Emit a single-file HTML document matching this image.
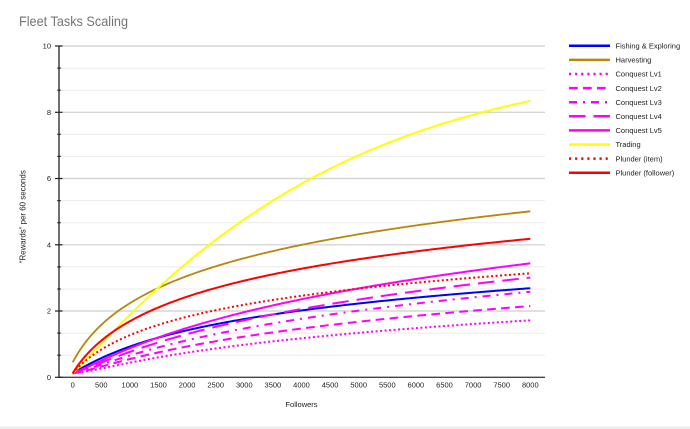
<!DOCTYPE html>
<html><head><meta charset="utf-8"><style>
html,body{margin:0;padding:0;background:#fff;}
svg{display:block;font-family:"Liberation Sans",Arial,sans-serif;}
</style></head><body>
<svg id="c" width="690" height="429" viewBox="0 0 690 429" xmlns="http://www.w3.org/2000/svg">
<rect x="0" y="0" width="690" height="429" fill="#fff"/>
<rect x="0" y="426.5" width="690" height="2.5" fill="#eeeeee"/>
<text x="19" y="26" font-size="14" fill="#757575" textLength="109" lengthAdjust="spacingAndGlyphs">Fleet Tasks Scaling</text>
<g stroke="#ebebeb" stroke-width="1">
<line x1="59" x2="545" y1="355.2" y2="355.2"/>
<line x1="59" x2="545" y1="333.1" y2="333.1"/>
<line x1="59" x2="545" y1="289.0" y2="289.0"/>
<line x1="59" x2="545" y1="266.9" y2="266.9"/>
<line x1="59" x2="545" y1="222.7" y2="222.7"/>
<line x1="59" x2="545" y1="200.6" y2="200.6"/>
<line x1="59" x2="545" y1="156.4" y2="156.4"/>
<line x1="59" x2="545" y1="134.3" y2="134.3"/>
<line x1="59" x2="545" y1="90.2" y2="90.2"/>
<line x1="59" x2="545" y1="68.1" y2="68.1"/>
</g>
<g stroke="#d6d6d6" stroke-width="1.4">
<line x1="59" x2="545" y1="311.0" y2="311.0"/>
<line x1="59" x2="545" y1="244.8" y2="244.8"/>
<line x1="59" x2="545" y1="178.5" y2="178.5"/>
<line x1="59" x2="545" y1="112.3" y2="112.3"/>
<line x1="59" x2="545" y1="46.0" y2="46.0"/>
</g>
<g id="series" fill="none" stroke-linejoin="round"></g>
<line x1="59" x2="545" y1="377.3" y2="377.3" stroke="#444" stroke-width="1.4"/>
<line x1="59" x2="59" y1="45.5" y2="377.3" stroke="#222" stroke-width="1.3"/>
<g stroke="#222" stroke-width="1.2">
<line x1="55" x2="62.5" y1="377.3" y2="377.3"/>
<line x1="57.3" x2="60.7" y1="355.2" y2="355.2"/>
<line x1="57.3" x2="60.7" y1="333.1" y2="333.1"/>
<line x1="55" x2="62.5" y1="311.0" y2="311.0"/>
<line x1="57.3" x2="60.7" y1="289.0" y2="289.0"/>
<line x1="57.3" x2="60.7" y1="266.9" y2="266.9"/>
<line x1="55" x2="62.5" y1="244.8" y2="244.8"/>
<line x1="57.3" x2="60.7" y1="222.7" y2="222.7"/>
<line x1="57.3" x2="60.7" y1="200.6" y2="200.6"/>
<line x1="55" x2="62.5" y1="178.5" y2="178.5"/>
<line x1="57.3" x2="60.7" y1="156.4" y2="156.4"/>
<line x1="57.3" x2="60.7" y1="134.3" y2="134.3"/>
<line x1="55" x2="62.5" y1="112.3" y2="112.3"/>
<line x1="57.3" x2="60.7" y1="90.2" y2="90.2"/>
<line x1="57.3" x2="60.7" y1="68.1" y2="68.1"/>
<line x1="55" x2="62.5" y1="46.0" y2="46.0"/>
</g>
<g font-size="7.5" fill="#222" text-anchor="end">
<text x="51" y="380">0</text>
<text x="51" y="313.7">2</text>
<text x="51" y="247.5">4</text>
<text x="51" y="181.2">6</text>
<text x="51" y="115">8</text>
<text x="51" y="48.7">10</text>
</g>
<g font-size="7.5" fill="#222" text-anchor="middle">
<text x="72.7" y="387.5">0</text>
<text x="101.3" y="387.5">500</text>
<text x="129.9" y="387.5">1000</text>
<text x="158.5" y="387.5">1500</text>
<text x="187.1" y="387.5">2000</text>
<text x="215.7" y="387.5">2500</text>
<text x="244.3" y="387.5">3000</text>
<text x="272.9" y="387.5">3500</text>
<text x="301.5" y="387.5">4000</text>
<text x="330.1" y="387.5">4500</text>
<text x="358.7" y="387.5">5000</text>
<text x="387.3" y="387.5">5500</text>
<text x="415.9" y="387.5">6000</text>
<text x="444.5" y="387.5">6500</text>
<text x="473.1" y="387.5">7000</text>
<text x="501.7" y="387.5">7500</text>
<text x="530.3" y="387.5">8000</text>
</g>
<text x="301.5" y="407" font-size="7.5" fill="#222" text-anchor="middle">Followers</text>
<text transform="translate(25.3,216.7) rotate(-90)" font-size="8" fill="#222" text-anchor="middle" textLength="93" lengthAdjust="spacingAndGlyphs">“Rewards” per 60 seconds</text>
<g fill="none" stroke-width="2.5">
<line x1="569" x2="610" y1="45.8" y2="45.8" stroke="#0000ff"/>
<line x1="569" x2="610" y1="59.9" y2="59.9" stroke="#b8860b"/>
<line x1="569" x2="610" y1="74.0" y2="74.0" stroke="#ff00ff" stroke-dasharray="2.2,3.9"/>
<line x1="569" x2="610" y1="88.1" y2="88.1" stroke="#ff00ff" stroke-dasharray="8.7,5.3"/>
<line x1="569" x2="610" y1="102.2" y2="102.2" stroke="#ff00ff" stroke-dasharray="8,6,2,6"/>
<line x1="569" x2="610" y1="116.3" y2="116.3" stroke="#ff00ff" stroke-dasharray="16.5,8"/>
<line x1="569" x2="610" y1="130.4" y2="130.4" stroke="#ff00ff"/>
<line x1="569" x2="610" y1="144.5" y2="144.5" stroke="#ffff00"/>
<line x1="569" x2="610" y1="158.6" y2="158.6" stroke="#ff0000" stroke-dasharray="2.2,3.9"/>
<line x1="569" x2="610" y1="172.7" y2="172.7" stroke="#ff0000"/>
</g>
<g font-size="7.5" fill="#222">
<text x="615.5" y="48.5">Fishing &amp; Exploring</text>
<text x="615.5" y="62.6">Harvesting</text>
<text x="615.5" y="76.7">Conquest Lv1</text>
<text x="615.5" y="90.8">Conquest Lv2</text>
<text x="615.5" y="104.9">Conquest Lv3</text>
<text x="615.5" y="119">Conquest Lv4</text>
<text x="615.5" y="133.1">Conquest Lv5</text>
<text x="615.5" y="147.2">Trading</text>
<text x="615.5" y="161.3">Plunder (item)</text>
<text x="615.5" y="175.4">Plunder (follower)</text>
</g>
</svg>
<script>
(function(){
var X=function(f){return 72.7+f*0.0572;};
var Y=function(v){return 377.3-v*33.13;};
var off=function(f){return 0.12*Math.exp(-f/300);};
var ln=Math.log;
var conq=function(n){return function(f){return (n+3)/8*2.111*ln(1+f/1950)+off(f);};};
var S=[
 {c:"#0000ff",w:2,f:function(f){return 1.100*ln(1+f/760)+off(f);}},
 {c:"#b8860b",w:1.8,f:function(f){return 0.45+1.588*ln(1+f/480);}},
 {c:"#ff00ff",w:2,d:"2,2.5",f:conq(1)},
 {c:"#ff00ff",w:2,d:"8.7,5.3",f:conq(2)},
 {c:"#ff00ff",w:2,d:"8,6,2,6",f:conq(3)},
 {c:"#ff00ff",w:2,d:"16.5,8",f:conq(4)},
 {c:"#ff00ff",w:2,f:conq(5)},
 {c:"#ffff00",w:2,f:function(f){return 11.02*(1-Math.exp(-f/5650))+0.25*Math.sin(Math.PI*f/8000)+off(f);}},
 {c:"#ff0000",w:2,d:"2,2.5",f:function(f){return 1.055*ln(1+f/430)+off(f);}},
 {c:"#ff0000",w:2,f:function(f){return 1.405*ln(1+f/430)+off(f);}}
];
var g=document.getElementById("series");
var ns="http://www.w3.org/2000/svg";
S.forEach(function(s){
 var d="";
 for(var f=0;f<=8000;f+=(f<1000?10:40)){
  d+=(d?"L":"M")+X(f).toFixed(2)+","+Y(s.f(f)).toFixed(2);
 }
 var p=document.createElementNS(ns,"path");
 p.setAttribute("d",d);
 p.setAttribute("stroke",s.c);
 p.setAttribute("stroke-width",s.w);
 if(s.d)p.setAttribute("stroke-dasharray",s.d);
 g.appendChild(p);
});
})();
</script>
</body></html>
